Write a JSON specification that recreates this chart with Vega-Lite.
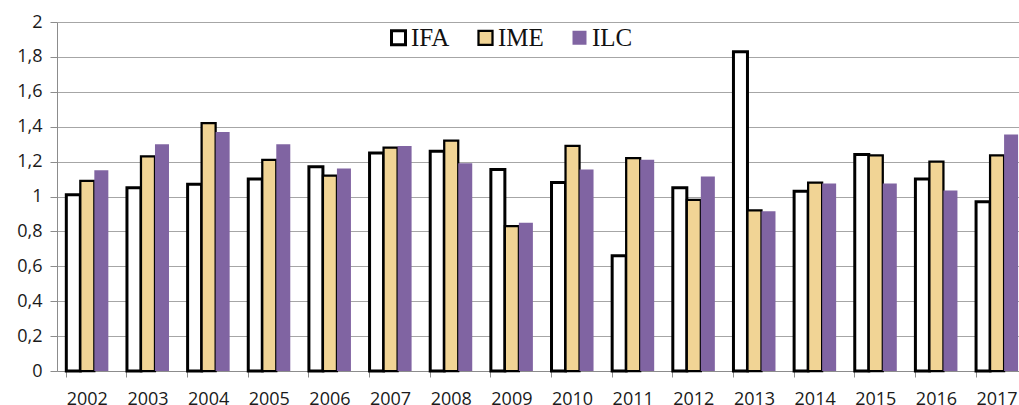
{
  "$schema": "https://vega.github.io/schema/vega-lite/v6.json",
  "autosize": "none",
  "width": 962,
  "height": 349,
  "padding": {"left": 57, "top": 22, "right": 0, "bottom": 34},
  "background": "white",
  "config": {
    "view": {"stroke": null},
    "axis": {
      "labelFont": "Open Sans",
      "labelFontSize": 18,
      "labelColor": "#1a1a1a",
      "domainColor": "#8c8c8c",
      "tickColor": "#8c8c8c",
      "gridColor": "#a6a6a6",
      "title": null
    }
  },
  "data": {
    "values": [
      {"year": "2002", "index": "IFA", "value": 1.01}, {"year": "2002", "index": "IME", "value": 1.09}, {"year": "2002", "index": "ILC", "value": 1.15},
      {"year": "2003", "index": "IFA", "value": 1.05}, {"year": "2003", "index": "IME", "value": 1.23}, {"year": "2003", "index": "ILC", "value": 1.30},
      {"year": "2004", "index": "IFA", "value": 1.07}, {"year": "2004", "index": "IME", "value": 1.42}, {"year": "2004", "index": "ILC", "value": 1.37},
      {"year": "2005", "index": "IFA", "value": 1.10}, {"year": "2005", "index": "IME", "value": 1.21}, {"year": "2005", "index": "ILC", "value": 1.30},
      {"year": "2006", "index": "IFA", "value": 1.17}, {"year": "2006", "index": "IME", "value": 1.12}, {"year": "2006", "index": "ILC", "value": 1.16},
      {"year": "2007", "index": "IFA", "value": 1.25}, {"year": "2007", "index": "IME", "value": 1.28}, {"year": "2007", "index": "ILC", "value": 1.29},
      {"year": "2008", "index": "IFA", "value": 1.26}, {"year": "2008", "index": "IME", "value": 1.32}, {"year": "2008", "index": "ILC", "value": 1.19},
      {"year": "2009", "index": "IFA", "value": 1.155}, {"year": "2009", "index": "IME", "value": 0.83}, {"year": "2009", "index": "ILC", "value": 0.85},
      {"year": "2010", "index": "IFA", "value": 1.08}, {"year": "2010", "index": "IME", "value": 1.29}, {"year": "2010", "index": "ILC", "value": 1.155},
      {"year": "2011", "index": "IFA", "value": 0.66}, {"year": "2011", "index": "IME", "value": 1.22}, {"year": "2011", "index": "ILC", "value": 1.21},
      {"year": "2012", "index": "IFA", "value": 1.05}, {"year": "2012", "index": "IME", "value": 0.98}, {"year": "2012", "index": "ILC", "value": 1.115},
      {"year": "2013", "index": "IFA", "value": 1.83}, {"year": "2013", "index": "IME", "value": 0.92}, {"year": "2013", "index": "ILC", "value": 0.915},
      {"year": "2014", "index": "IFA", "value": 1.03}, {"year": "2014", "index": "IME", "value": 1.08}, {"year": "2014", "index": "ILC", "value": 1.075},
      {"year": "2015", "index": "IFA", "value": 1.24}, {"year": "2015", "index": "IME", "value": 1.235}, {"year": "2015", "index": "ILC", "value": 1.075},
      {"year": "2016", "index": "IFA", "value": 1.10}, {"year": "2016", "index": "IME", "value": 1.20}, {"year": "2016", "index": "ILC", "value": 1.035},
      {"year": "2017", "index": "IFA", "value": 0.97}, {"year": "2017", "index": "IME", "value": 1.235}, {"year": "2017", "index": "ILC", "value": 1.355}
    ]
  },
  "mark": {"type": "bar"},
  "encoding": {
    "x": {
      "field": "year",
      "type": "nominal",
      "scale": {"range": [0, 970.4], "paddingInner": 0.307, "paddingOuter": 0.1535},
      "axis": {
        "labelAngle": 0,
        "bandPosition": 0,
        "tickSize": 6,
        "labelPadding": 13,
        "grid": false
      }
    },
    "xOffset": {
      "field": "index",
      "type": "nominal",
      "sort": ["IFA", "IME", "ILC"],
      "scale": {"domain": ["IFA", "IME", "ILC"], "paddingInner": 0, "paddingOuter": 0}
    },
    "y": {
      "field": "value",
      "type": "quantitative",
      "scale": {"domain": [0, 2], "nice": false},
      "axis": {
        "values": [0, 0.2, 0.4, 0.6, 0.8, 1, 1.2, 1.4, 1.6, 1.8, 2],
        "labelExpr": "replace(format(datum.value, '.1~f'), '.', ',')",
        "tickSize": 7,
        "labelPadding": 8,
        "grid": true
      }
    },
    "fill": {
      "field": "index",
      "type": "nominal",
      "scale": {"domain": ["IFA", "IME", "ILC"], "range": ["#ffffff", "#f1d495", "#8064a2"]},
      "legend": {
        "title": null,
        "orient": "none",
        "legendX": 329,
        "legendY": 3,
        "direction": "horizontal",
        "symbolType": "square",
        "symbolSize": 196,
        "labelFont": "Liberation Serif",
        "labelFontSize": 25,
        "labelColor": "#111111",
        "labelOffset": 0,
        "columnPadding": 23,
        "padding": 0
      }
    },
    "stroke": {
      "field": "index",
      "type": "nominal",
      "scale": {"domain": ["IFA", "IME", "ILC"], "range": ["#000000", "#000000", "transparent"]}
    },
    "strokeWidth": {
      "field": "index",
      "type": "nominal",
      "scale": {"domain": ["IFA", "IME", "ILC"], "range": [3, 1.5, 0]}
    }
  }
}
